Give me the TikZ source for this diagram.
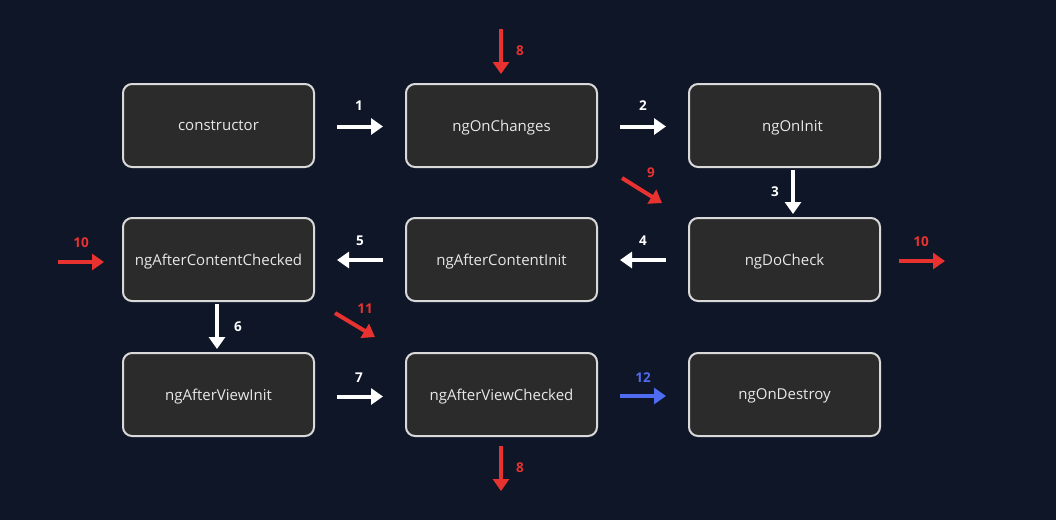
\documentclass[tikz,border=0pt]{standalone}
\usepackage{fontspec}
\setmainfont{Open Sans}
\usetikzlibrary{arrows.meta,calc}
\definecolor{bg}{HTML}{0E1628}
\definecolor{boxfill}{HTML}{2B2B2B}
\definecolor{boxline}{HTML}{D9D9D9}
\definecolor{boxtext}{HTML}{E8E8E8}
\definecolor{myred}{HTML}{E8322F}
\definecolor{myblue}{HTML}{4F6BF0}
\tikzset{
  box/.style={draw=boxline, line width=2pt, fill=boxfill, rounded corners=9pt,
    minimum width=191pt, minimum height=83pt, inner sep=0pt, text depth=0pt,
    text=boxtext, font=\fontsize{15pt}{18pt}\selectfont},
  warr/.style={draw=white, line width=4pt, -{Triangle[length=12pt,width=16pt]}},
  rarr/.style={draw=myred, line width=4pt, -{Triangle[length=12pt,width=16pt]}},
  barr/.style={draw=myblue, line width=4pt, -{Triangle[length=12pt,width=16pt]}},
  wlab/.style={text=white, font=\bfseries\fontsize{13.5pt}{15pt}\selectfont, inner sep=0pt},
  rlab/.style={wlab, text=myred},
  blab/.style={wlab, text=myblue},
}
\begin{document}
\begin{tikzpicture}[x=1pt,y=-1pt]
\path[fill=bg, use as bounding box] (0,0) rectangle (1056,520);

\node[box] (c)   at (218.5,125.5) {constructor};
\node[box] (oc)  at (501.5,125.5) {ngOnChanges};
\node[box] (oi)  at (784.5,125.5) {\hspace*{16pt}ngOnInit};
\node[box] (acc) at (218.5,259.5) {ngAfterContentChecked};
\node[box] (aci) at (501.5,259.5) {ngAfterContentInit};
\node[box] (dc)  at (784.5,259.5) {ngDoCheck};
\node[box] (avi) at (218.5,394.5) {ngAfterViewInit};
\node[box] (avc) at (501.5,394.5) {ngAfterViewChecked};
\node[box] (od)  at (784.5,394.5) {ngOnDestroy};

% white flow arrows
\draw[warr] ($(c.east)+(22,1)$) -- ($(oc.west)+(-22,1)$);
\node[wlab] (l1) at (359,106) {1};
\draw[warr] ($(oc.east)+(22,1)$) -- ($(oi.west)+(-22,1)$);
\node[wlab] (l2) at (643,106) {2};
\draw[warr] ($(oi.south)+(8.5,2)$) -- ($(dc.north)+(8.5,-3)$);
\node[wlab] (l3) at (775,192) {3};
\draw[warr] ($(dc.west)+(-22,0.5)$) -- ($(aci.east)+(22,0.5)$);
\node[wlab] (l4) at (643,241) {4};
\draw[warr] ($(aci.west)+(-22,0.5)$) -- ($(acc.east)+(22,0.5)$);
\node[wlab] (l5) at (360,241) {5};
\draw[warr] ($(acc.south)+(-1.5,2)$) -- ($(avi.north)+(-1.5,-3)$);
\node[wlab] (l6) at (238,327) {6};
\draw[warr] ($(avi.east)+(22,2)$) -- ($(avc.west)+(-22,2)$);
\node[wlab] (l7) at (359,378) {7};
\draw[barr] ($(avc.east)+(22,1.5)$) -- ($(od.west)+(-22,1.5)$);
\node[blab] (l12) at (643,378) {12};

% red arrows
\coordinate (t8a) at (501,29);
\draw[rarr] (t8a) -- ($(oc.north)+(-0.5,-9)$);
\node[rlab] (l8a) at (520,51) {8};
\coordinate (t8b) at (501,491);
\draw[rarr] ($(avc.south)+(-0.5,9)$) -- (t8b);
\node[rlab] (l8b) at (520,468) {8};
\coordinate (s9) at (622,178);
\coordinate (e9) at (662,203);
\draw[rarr] (s9) -- (e9);
\node[rlab] (l9) at (651,173) {9};
\coordinate (s10) at (58,262);
\draw[rarr] (s10) -- ($(acc.west)+(-18,2.5)$);
\node[rlab] (l10a) at (81,243) {10};
\coordinate (e10) at (945,261);
\draw[rarr] ($(dc.east)+(18,1.5)$) -- (e10);
\node[rlab] (l10b) at (921,242) {10};
\coordinate (s11) at (335,313);
\coordinate (e11) at (375,337);
\draw[rarr] (s11) -- (e11);
\node[rlab] (l11) at (365,309) {11};
\end{tikzpicture}
\end{document}
